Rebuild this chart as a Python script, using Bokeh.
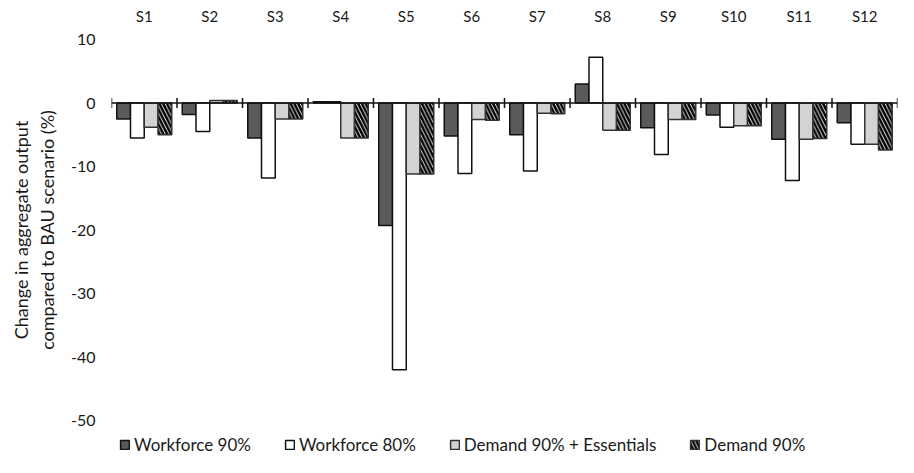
from bokeh.plotting import figure
from bokeh.models import (ColumnDataSource, FixedTicker, Span, Legend, LegendItem,
                          PrintfTickFormatter)
from bokeh.layouts import column
from bokeh.transform import dodge
from bokeh.embed import file_html
from bokeh.resources import INLINE
import math

# ---- data ----
categories = ["S1", "S2", "S3", "S4", "S5", "S6", "S7", "S8", "S9", "S10", "S11", "S12"]
workforce_90 = [-2.5, -1.8, -5.5, 0.2, -19.3, -5.2, -5.0, 3.0, -3.9, -1.9, -5.7, -3.1]
workforce_80 = [-5.5, -4.5, -11.8, 0.2, -42.0, -11.1, -10.7, 7.2, -8.1, -3.8, -12.2, -6.5]
demand_90_ess = [-3.8, 0.4, -2.5, -5.5, -11.2, -2.6, -1.6, -4.3, -2.6, -3.6, -5.7, -6.5]
demand_90 = [-5.0, 0.4, -2.5, -5.5, -11.2, -2.7, -1.7, -4.3, -2.6, -3.6, -5.6, -7.4]
series_names = ["Workforce 90%", "Workforce 80%", "Demand 90% + Essentials", "Demand 90%"]
y_ticks = [10, 0, -10, -20, -30, -40, -50]
y_title = "Change in aggregate output\ncompared to BAU scenario (%)"

FONT = "Lato"
TXT = "#1a1a1a"
W = 898

src = ColumnDataSource(dict(cat=categories, w90=workforce_90, w80=workforce_80,
                            d90e=demand_90_ess, d90=demand_90))

p = figure(x_range=categories, y_range=(-50, 10), width=W, height=431,
           x_axis_location="above", output_backend="svg", toolbar_location=None,
           min_border_left=111, min_border_right=1, min_border_top=39, min_border_bottom=11)
p.x_range.range_padding = 0
p.outline_line_color = None
p.xgrid.visible = False
p.ygrid.visible = False

bw = 0.21
styles = [
    dict(field="w90", off=-0.315, fill_color="#5a5a5a", line_color="#111111"),
    dict(field="w80", off=-0.105, fill_color="white", line_color="#111111"),
    dict(field="d90e", off=0.105, fill_color="#d3d3d3", line_color="#333333"),
    dict(field="d90", off=0.315, fill_color="white", line_color="#333333",
         hatch_pattern="left_diagonal_line", hatch_color="black", hatch_weight=2.5, hatch_scale=7.5),
]
renderers = []
for st in styles:
    kw = {k: v for k, v in st.items() if k not in ("field", "off")}
    r = p.vbar(x=dodge("cat", st["off"], range=p.x_range), top=st["field"], bottom=0,
               width=bw, source=src, line_width=1.5, **kw)
    renderers.append(r)

# zero axis line
p.add_layout(Span(location=0, dimension="width", line_color="#111111", line_width=1.5))
# category boundary tick marks
p.scatter(x=dodge("cat", -0.5, range=p.x_range), y=0, source=src, marker="dash",
          angle=math.pi / 2, size=10, line_color="#111111", line_width=1.5)
p.scatter(x=dodge("cat", 0.5, range=p.x_range), y=0,
          source=ColumnDataSource(dict(cat=categories[-1:])), marker="dash",
          angle=math.pi / 2, size=10, line_color="#111111", line_width=1.5)

# top category axis
xa = p.xaxis[0]
xa.axis_line_color = None
xa.major_tick_line_color = None
xa.minor_tick_line_color = None
xa.major_tick_out = 0
xa.major_tick_in = 0
xa.major_label_standoff = 15
xa.major_label_text_font = FONT
xa.major_label_text_font_size = "15px"
xa.major_label_text_color = TXT

ya = p.yaxis[0]
ya.ticker = FixedTicker(ticks=y_ticks)
ya.formatter = PrintfTickFormatter(format="%d")
ya.axis_line_color = None
ya.major_tick_line_color = None
ya.minor_tick_line_color = None
ya.major_tick_out = 0
ya.major_tick_in = 0
ya.major_label_standoff = 16
ya.major_label_text_font = FONT
ya.major_label_text_font_size = "16px"
ya.major_label_text_color = TXT
ya.axis_label = y_title
ya.axis_label_standoff = 10
ya.axis_label_text_font = FONT
ya.axis_label_text_font_size = "18px"
ya.axis_label_text_font_style = "normal"
ya.axis_label_text_color = TXT

# legend in its own strip below (its renderers are hidden, only the legend shows)
lf = figure(width=W, height=26, output_backend="svg", toolbar_location=None,
            x_axis_type=None, y_axis_type=None, x_range=categories, y_range=(-50, 10),
            min_border=0)
lf.outline_line_color = None
lf.xgrid.visible = False
lf.ygrid.visible = False
lrs = []
for st in styles:
    kw = {k: v for k, v in st.items() if k not in ("field", "off")}
    r = lf.vbar(x="cat", top=st["field"], bottom=0, width=0.2, source=src,
                line_width=1.5, **kw)
    r.visible = False
    lrs.append(r)

legend = Legend(items=[LegendItem(label=n, renderers=[r]) for n, r in zip(series_names, lrs)],
                orientation="horizontal", location=(8, 2))
legend.inactive_fill_alpha = 0
legend.glyph_width = 11
legend.glyph_height = 11
legend.label_standoff = 4
legend.spacing = 33
legend.padding = 0
legend.margin = 0
legend.border_line_color = None
legend.background_fill_alpha = 0
legend.label_text_font = FONT
legend.label_text_font_size = "17px"
legend.label_text_color = TXT
lf.add_layout(legend)

layout = column(p, lf, spacing=0)
open("out.html", "w").write(file_html(layout, INLINE))
